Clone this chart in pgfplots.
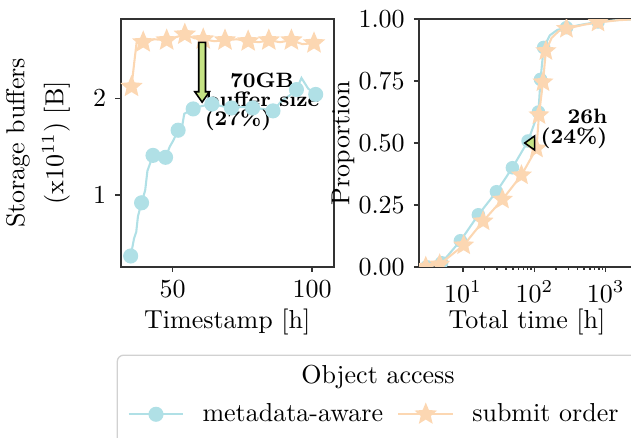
\documentclass[border=0pt]{standalone}
\usepackage{pgfplots}
\pgfplotsset{compat=1.18}

\definecolor{cyanc}{RGB}{176,224,230}
\definecolor{peach}{RGB}{252,215,178}
\definecolor{arrowgreen}{RGB}{197,227,132}

% filled five-pointed star
\pgfdeclareplotmark{fstar}{%
  \pgfpathmoveto{\pgfpointpolar{90}{\pgfplotmarksize}}%
  \pgfpathlineto{\pgfpointpolar{126}{0.45\pgfplotmarksize}}%
  \pgfpathlineto{\pgfpointpolar{162}{\pgfplotmarksize}}%
  \pgfpathlineto{\pgfpointpolar{198}{0.45\pgfplotmarksize}}%
  \pgfpathlineto{\pgfpointpolar{234}{\pgfplotmarksize}}%
  \pgfpathlineto{\pgfpointpolar{270}{0.45\pgfplotmarksize}}%
  \pgfpathlineto{\pgfpointpolar{306}{\pgfplotmarksize}}%
  \pgfpathlineto{\pgfpointpolar{342}{0.45\pgfplotmarksize}}%
  \pgfpathlineto{\pgfpointpolar{18}{\pgfplotmarksize}}%
  \pgfpathlineto{\pgfpointpolar{54}{0.45\pgfplotmarksize}}%
  \pgfpathclose
  \pgfusepathqfillstroke
}

\pgfplotsset{
  myax/.style={
    scale only axis,
    axis line style={black!80, line width=0.8pt},
    tick style={black!80, line width=0.6pt},
    major tick length=2pt,
    minor tick length=1.2pt,
    tick align=outside,
    xtick pos=bottom,
    ytick pos=left,
  },
  meta/.style={color=cyanc, line width=0.8pt, mark=*, mark size=2.5pt,
    mark options={draw=cyanc, fill=cyanc}},
  subm/.style={color=peach, line width=0.8pt, mark=fstar, mark size=3.5pt,
    mark options={draw=peach, fill=peach}},
}

\begin{document}
\begin{tikzpicture}[annot/.style={font=\fontsize{8}{9}\selectfont\bfseries, inner sep=0pt}]
\begin{axis}[myax,
  at={(0,0)}, anchor=south west,
  width=82pt, height=95.2pt,
  xmin=31.4, xmax=107.8, ymin=0.259, ymax=2.817,
  xtick={50,100}, ytick={1,2},
  xlabel={Timestamp [h]},
  ylabel={Storage buffers\\[3pt](x10$^{11}$) [B]},
  xlabel style={at={(axis description cs:0.5,-0.223)}, anchor=center},
  ylabel style={align=center, at={(axis description cs:-0.388,0.5)}, anchor=center},
  legend columns=2,
  legend style={at={(axis description cs:0.0305,-0.596)}, anchor=west,
    draw=none, fill=none, inner sep=0pt,
    nodes={inner sep=0pt, anchor=west},
    /tikz/every odd column/.append style={column sep=7pt},
    /tikz/every even column/.append style={column sep=5.5pt}},
  legend image code/.code={\draw[mark indices={2}]
    plot coordinates {(0pt,0pt) (10.5pt,0pt) (21pt,0pt)};},
]
\addplot[meta, mark indices={1,5,8,10,13,16,18,20,22,24,27,30}] coordinates {
  (35.0,0.37) (36.2,0.55) (37.0,0.62) (37.6,0.78) (38.9,0.92)
  (40.2,1.05) (41.0,1.25) (43.0,1.41) (45.0,1.40) (47.5,1.39)
  (49.0,1.50) (50.2,1.56) (52.0,1.67) (53.5,1.72) (54.2,1.84)
  (57.4,1.89) (60.5,1.92) (64.1,1.94) (67.5,1.92) (71.1,1.90)
  (75.0,1.91) (78.7,1.90) (82.5,1.89) (86.0,1.87) (89.0,1.97)
  (92.0,2.03) (94.4,2.09) (96.2,2.21) (98.6,2.10) (101.3,2.04)
};
\addlegendentry{metadata-aware}
\addplot[subm, mark indices={1,4,6,8,10,12,14,16,18,20}] coordinates {
  (35.3,2.12) (36.2,2.35) (37.1,2.57) (39.5,2.58) (43.5,2.61)
  (47.9,2.60) (51.0,2.63) (54.4,2.66) (58.0,2.62) (61.0,2.61)
  (65.0,2.59) (68.8,2.60) (73.0,2.61) (77.1,2.59) (81.0,2.58)
  (84.5,2.60) (88.5,2.58) (92.6,2.60) (96.5,2.56) (100.7,2.57)
};
\addlegendentry{submit order}
\coordinate (tipA) at (axis cs:60.6,1.96);
\node[annot] at (axis cs:82.05,2.181) {70GB};
\node[annot] at (axis cs:82.2,1.99) {buffer size};
\node[annot] at (axis cs:73.5,1.776) {(27\%)};
\end{axis}

\begin{axis}[myax,
  at={(114.8pt,0)}, anchor=south west,
  width=83pt, height=95.2pt,
  xmode=log, xmin=2.42, xmax=2570, ymin=0, ymax=1,
  xtick={10,100,1000},
  ytick={0,0.25,0.5,0.75,1},
  yticklabel style={/pgf/number format/.cd, fixed, fixed zerofill, precision=2},
  xlabel={Total time [h]},
  ylabel={Proportion},
  xlabel style={at={(axis description cs:0.5,-0.223)}, anchor=center},
  ylabel style={at={(axis description cs:-0.353,0.5)}, anchor=center},
  clip marker paths=true,
]
\addplot[meta, mark size=2.2pt, mark indices={1,2,3,4,5,6,7,8,9,10,13,15}] coordinates {
  (3.1,0.0) (5.0,0.016) (9.2,0.105) (16.4,0.21) (29.4,0.303)
  (49.2,0.40) (81.6,0.508) (114,0.625) (122,0.757) (135,0.886)
  (165,0.935) (210,0.957) (282,0.966) (500,0.980) (781,0.989)
  (1500,0.997) (2600,1.0)
};
\addplot[subm, mark size=3.2pt, mark indices={1,2,3,4,5,6,7,8,9,10,13,15}] coordinates {
  (3.0,0.0) (4.7,0.01) (10.2,0.087) (19.1,0.184) (35.7,0.272)
  (65.9,0.37) (107,0.478) (116,0.613) (132,0.746) (145,0.872)
  (175,0.925) (220,0.952) (282,0.962) (500,0.978) (781,0.987)
  (1500,0.996) (2600,1.0)
};
\coordinate (tipB) at (axis cs:86,0.5);
\node[annot, anchor=east] at (axis cs:1070,0.608) {26h};
\node[annot, anchor=east] at (axis cs:1070,0.518) {(24\%)};
\end{axis}

% annotation markers
\filldraw[fill=arrowgreen, draw=black, line width=0.6pt, shift={(tipA)}]
  (0pt,0pt) -- (-2.8pt,4pt) -- (-1.3pt,4pt) -- (-1.3pt,23pt) -- (1.3pt,23pt)
  -- (1.3pt,4pt) -- (2.8pt,4pt) -- cycle;
\filldraw[fill=arrowgreen, draw=black, line width=0.6pt, shift={(tipB)}]
  (-1.9pt,0pt) -- (1.9pt,2.7pt) -- (1.9pt,-2.7pt) -- cycle;

% legend frame and title
\draw[rounded corners=2.5pt, black!18, line width=0.5pt]
  (-1.3pt,-34pt) rectangle (260pt,-90pt);
\node at (99pt,-42.3pt) {Object access};

\pgfresetboundingbox
\useasboundingbox (-46.4pt,-65.5pt) rectangle (196.3pt,102.6pt);
\end{tikzpicture}
\end{document}
